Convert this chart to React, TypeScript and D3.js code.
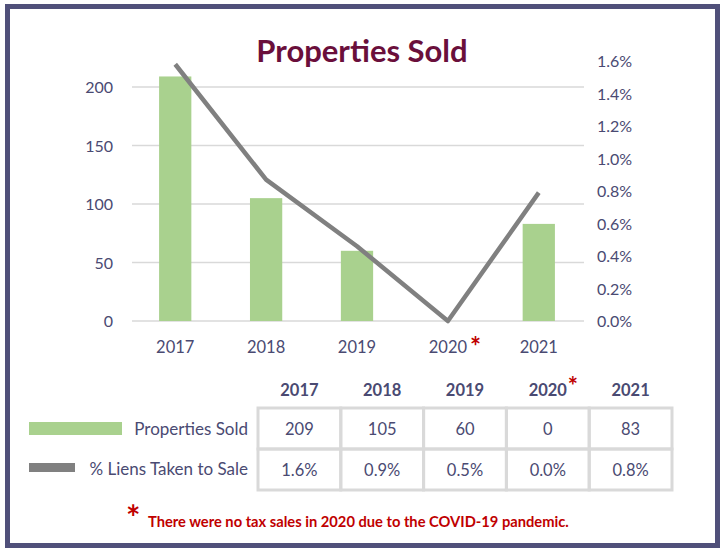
import React from 'react';
import * as d3 from 'd3';

const years = ['2017', '2018', '2019', '2020', '2021'];
const propertiesSold = [209, 105, 60, 0, 83];
const liensPct = [1.58, 0.87, 0.46, 0, 0.79];
const leftTicks = [0, 50, 100, 150, 200];
const rightTicks = [0, 0.2, 0.4, 0.6, 0.8, 1.0, 1.2, 1.4, 1.6];
const seriesNames = ['Properties Sold', '% Liens Taken to Sale'];
const footnote = 'There were no tax sales in 2020 due to the COVID-19 pandemic.';
const starYear = '2020';

const W = 725;
const H = 548;
const FONT = 'Lato, "Open Sans", sans-serif';
const TEXT = '#4a4a72';
const GREEN = '#a9d18e';
const GRAY = '#808080';
const RED = '#c00000';

const App = () => {
  const x = d3.scaleBand().domain(years).range([130, 584]).paddingInner(0.645).paddingOuter(0.32);
  const yL = d3.scaleLinear().domain([0, 200]).range([321, 87]);
  const yR = d3.scaleLinear().domain([0, 1.6]).range([321, 61]);
  const cx = (d: string) => (x(d) as number) + x.bandwidth() / 2;

  const line = d3.line<number>()
    .x((d, i) => cx(years[i]))
    .y(d => yR(d));

  // table geometry
  const col = d3.scaleBand().domain(years).range([258, 672]);
  const rowTop = [408, 449];
  const rowH = 41;

  return (
    <svg width={W} height={H} style={{ position: 'absolute', left: 0, top: 0 }} fontFamily={FONT}>
      <rect x={0} y={0} width={W} height={H} fill="#fff" />
      <rect x={7.5} y={6.5} width={710} height={539} fill="#fff" stroke="#50507a" strokeWidth={5} />

      <text x={362} y={62} textAnchor="middle" fontSize={31} fontWeight="bold" fill="#6a0f3b">
        Properties Sold
      </text>

      {leftTicks.map(t => (
        <g key={'l' + t}>
          <line x1={132} x2={584} y1={yL(t)} y2={yL(t)} stroke="#d9d9d9" strokeWidth={1.5} />
          <text x={113} y={yL(t) + 6} textAnchor="end" fontSize={16} fill={TEXT}>{t}</text>
        </g>
      ))}
      {rightTicks.map(t => (
        <text key={'r' + t} x={597} y={yR(t) + 6} fontSize={16} fill={TEXT}>
          {d3.format('.1f')(t)}%
        </text>
      ))}

      {propertiesSold.map((v, i) => (
        <rect key={years[i]} x={x(years[i])} y={yL(v)} width={x.bandwidth()} height={yL(0) - yL(v)} fill={GREEN} />
      ))}

      <path d={line(liensPct) || ''} fill="none" stroke={GRAY} strokeWidth={4.5} strokeLinejoin="round" />

      {years.map(y => (
        <g key={'x' + y}>
          <text x={cx(y)} y={353} textAnchor="middle" fontSize={16.5} fill={TEXT}>{y}</text>
          {y === starYear && (
            <text x={cx(y) + 22} y={356} fontSize={26} fontWeight="bold" fill={RED}>*</text>
          )}
        </g>
      ))}

      {/* table header */}
      {years.map(y => (
        <g key={'h' + y}>
          <text x={(col(y) as number) + col.bandwidth() / 2} y={396} textAnchor="middle" fontSize={16.5} fontWeight="bold" fill={TEXT}>{y}</text>
          {y === starYear && (
            <text x={(col(y) as number) + col.bandwidth() / 2 + 20} y={395} fontSize={24} fontWeight="bold" fill={RED}>*</text>
          )}
        </g>
      ))}

      {/* table cells */}
      {[propertiesSold.map(v => String(v)), liensPct.map(v => d3.format('.1f')(v) + '%')].map((row, r) => (
        <g key={'row' + r}>
          {row.map((s, i) => (
            <g key={i}>
              <rect x={col(years[i])} y={rowTop[r]} width={col.bandwidth()} height={rowH} fill="none" stroke="#d9d9d9" strokeWidth={3} />
              <text x={(col(years[i]) as number) + col.bandwidth() / 2} y={rowTop[r] + 27} textAnchor="middle" fontSize={16.5} fill={TEXT}>{s}</text>
            </g>
          ))}
        </g>
      ))}

      {/* legend */}
      <rect x={29} y={422} width={93} height={13} fill={GREEN} />
      <rect x={29} y={463} width={46} height={9} fill={GRAY} />
      <text x={248} y={435} textAnchor="end" fontSize={17} fill={TEXT}>{seriesNames[0]}</text>
      <text x={248} y={475} textAnchor="end" fontSize={17} fill={TEXT}>{seriesNames[1]}</text>

      {/* footnote */}
      <text x={126} y={530} fontSize={34} fontWeight="bold" fill={RED}>*</text>
      <text x={148} y={527} fontSize={14.7} fontWeight="bold" fill={RED}>{footnote}</text>
    </svg>
  );
};

export default App;
